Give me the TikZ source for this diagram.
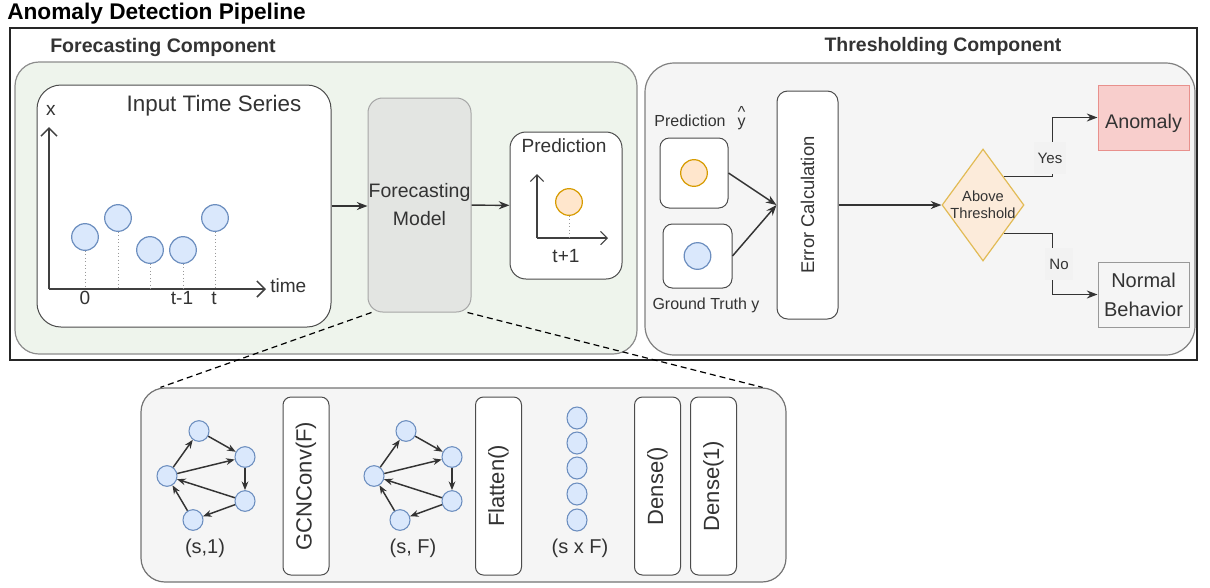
\documentclass[tikz,border=0pt]{standalone}
\usepackage{fontspec}
\setmainfont{Liberation Sans}
\usetikzlibrary{arrows.meta,positioning,shapes.geometric}

\definecolor{txt}{HTML}{333333}
\definecolor{bluefl}{HTML}{DAE8FC}
\definecolor{bluedr}{HTML}{6C8EBF}
\definecolor{orfl}{HTML}{FFE6CC}
\definecolor{ordr}{HTML}{D79B00}
\definecolor{greenfl}{HTML}{EEF4EC}
\definecolor{greyfl}{HTML}{F5F5F5}
\definecolor{modelfl}{HTML}{E3E5E2}
\definecolor{redfl}{HTML}{F8CECC}
\definecolor{reddr}{HTML}{E8908C}
\definecolor{diafl}{HTML}{FCEBDA}
\definecolor{diadr}{HTML}{E2BB55}

\newcommand{\fnt}[2]{\fontsize{#1}{#2}\selectfont}

\tikzset{
  panel/.style={draw=black!45, line width=0.9pt, rounded corners=18pt, inner sep=0pt},
  card/.style={draw=black!70, fill=white, line width=0.75pt, inner sep=0pt},
  layerbox/.style={card, rounded corners=6pt, minimum width=34.5pt, minimum height=133.5pt},
  bdot/.style={circle, draw=bluedr, fill=bluefl, line width=0.9pt, inner sep=0pt, minimum size=20pt},
  odot/.style={bdot, draw=ordr, fill=orfl},
  gdot/.style={ellipse, draw=bluedr, fill=bluefl, line width=0.8pt, inner sep=0pt, minimum width=15pt, minimum height=15.5pt},
  lbl/.style={text=txt, inner sep=0pt},
  axis/.style={draw=black!75, line width=1.1pt, -{Straight Barb[length=6pt,width=12pt]}},
  flow/.style={draw=black!80, line width=1.1pt, -{Stealth[length=8pt,width=6pt]}},
  edge/.style={draw=black!80, line width=1.1pt, -{Stealth[length=6.5pt,width=5pt]}},
  drop/.style={draw=black!40, dotted, line width=0.6pt},
  zoomline/.style={draw=black, line width=0.9pt, dash pattern=on 4.5pt off 3pt},
}

\begin{document}
\begin{tikzpicture}[x=0.75pt,y=-0.75pt]
\useasboundingbox (0,0) rectangle (1210,587);

% title and frame
\node[anchor=west, inner sep=0pt, font=\bfseries\fnt{17pt}{20pt}] (title) at (7,14) {Anomaly Detection Pipeline};
\draw[line width=1.8pt, black!85] (10,28) rectangle (1197,360);

% forecasting component
\node[lbl, anchor=west, font=\bfseries\fnt{14.7pt}{17pt}] (fchead) at (50,47) {Forecasting Component};
\node[panel, fill=greenfl, minimum width=466.5pt, minimum height=219pt] (fcpanel) at (326,208) {};

\node[card, rounded corners=18pt, minimum width=220.5pt, minimum height=181.5pt] (inbox) at (184,206) {};
\node[lbl, font=\fnt{16.8pt}{20pt}] (intitle) at (214,106) {Input Time Series};
\coordinate (o) at (49,289);
\coordinate (ytop) at (49,127);
\coordinate (xend) at (266,289);
\draw[axis] (o) -- (ytop);
\draw[axis] (o) -- (xend);
\node[lbl, font=\fnt{14.3pt}{16pt}] (xlbl) at (51,110) {x};
\node[lbl, anchor=west, font=\fnt{14.3pt}{16pt}] (timelbl) at (270,286) {time};
\foreach \i/\px/\py in {1/85/237,2/118/218,3/150/250,4/183/250,5/215/218}{
  \node[bdot] (ts\i) at (\px,\py) {};
  \draw[drop] (ts\i.south) -- (ts\i.south |- o);
}
\node[lbl, font=\fnt{14.3pt}{16pt}] (t0) at (85,298) {0};
\node[lbl, font=\fnt{14.3pt}{16pt}] (tm1) at (182,298) {t-1};
\node[lbl, font=\fnt{14.3pt}{16pt}] (tt) at (214,298) {t};

\node[lbl, draw=black!35, fill=modelfl, line width=0.75pt, rounded corners=11pt, minimum width=77.25pt, minimum height=160.5pt, align=center, font=\fnt{14.6pt}{21pt}] (model) at (419.5,205) {Forecasting\\Model};

\node[card, rounded corners=12pt, minimum width=84pt, minimum height=110.25pt] (predbox) at (566,205.5) {};
\node[lbl, font=\fnt{14.3pt}{16pt}] (predtitle) at (564,146) {Prediction};
\coordinate (po) at (537,238);
\coordinate (pytop) at (537,174);
\coordinate (pxend) at (608,238);
\draw[axis, line width=0.8pt, -{Straight Barb[length=5pt,width=10pt]}] (po) -- (pytop);
\draw[axis, line width=0.8pt, -{Straight Barb[length=5pt,width=10pt]}] (po) -- (pxend);
\node[odot] (pdot) at (569,202) {};
\draw[drop] (pdot.south) -- (pdot.south |- po);
\node[lbl, font=\fnt{14.3pt}{16pt}] (tnext) at (566,256) {t+1};

\draw[flow] (inbox.east) -- (inbox.east -| model.west);
\draw[flow] (model) -- (predbox);

% thresholding component
\node[lbl, font=\bfseries\fnt{14.6pt}{17pt}] (thhead) at (943,47) {Thresholding Component};
\node[panel, draw=black!50, fill=greyfl, rounded corners=22pt, minimum width=412.5pt, minimum height=219pt] (thpanel) at (920,209) {};

\node[lbl, font=\fnt{12pt}{14pt}] (predlbl) at (700,121) {Prediction\hspace{9pt}\ooalign{y\cr\hidewidth\raisebox{7pt}{\^{}}\hidewidth\cr}};
\node[card, rounded corners=7pt, minimum width=51pt, minimum height=52.5pt] (pbox) at (694,173) {};
\node[odot] (pcirc) at (pbox) {};
\node[card, rounded corners=7pt, minimum width=51.75pt, minimum height=48pt] (gbox) at (697.5,256) {};
\node[bdot] (gcirc) at (gbox) {};
\node[lbl, font=\fnt{12pt}{14pt}] (gtlbl) at (706,305) {Ground Truth y};

\node[card, rounded corners=8pt, minimum width=45.75pt, minimum height=171pt] (errbox) at (807.5,205) {};
\node[lbl, rotate=90, font=\fnt{13.8pt}{16pt}] (errtxt) at (errbox) {Error Calculation};

\node[diamond, draw=diadr, fill=diafl, line width=0.9pt, inner sep=0pt, minimum width=61.5pt, minimum height=84pt] (thr) at (983,205) {};
\node[lbl, align=center, font=\fnt{11pt}{12.5pt}] (thrtxt) at (thr) {Above\\Threshold};

\node[draw=reddr, fill=redfl, line width=0.75pt, minimum width=68.25pt, minimum height=48.75pt] (anom) at (1143.5,117.5) {};
\node[lbl, font=\fnt{14.8pt}{17pt}] (anomtxt) at (1143.5,123) {Anomaly};
\node[lbl, draw=black!40, fill=greyfl, line width=0.75pt, minimum width=68.25pt, minimum height=48.75pt, align=center, font=\fnt{15pt}{21.75pt}] (normal) at (1143.5,294.5) {Normal\\Behavior};

\draw[flow] (pbox.east) -- (errbox.west);
\draw[flow] (gbox.east) -- (errbox.west);
\draw[flow] (errbox.east) -- (thr.west);
\draw[flow] (thr.north east) -| ([xshift=-33.75pt]anom.west) -- (anom.west);
\draw[flow] (thr.south east) -| ([xshift=-33.75pt]normal.west) -- (normal.west);
\node[lbl, fill=black!5, inner xsep=3pt, inner ysep=8pt, font=\fnt{11.3pt}{13pt}] (yes) at (1050,158) {Yes};
\node[lbl, fill=black!5, inner xsep=3pt, inner ysep=8pt, font=\fnt{11.3pt}{13pt}] (no) at (1059,264) {No};

% model details
\node[panel, draw=black!55, fill=greyfl, minimum width=483.75pt, minimum height=145.5pt] (bpanel) at (463.5,485) {};

\foreach \g/\dx in {a/0,b/207}{
  \foreach \i/\px/\py in {1/199/431,2/245/457,3/167/476,4/245/501,5/193/520}
    \node[gdot] (\g\i) at ({\px+\dx},\py) {};
  \foreach \s/\t in {1/2,3/1,3/2,2/4,4/3,4/5,5/3}
    \draw[edge] (\g\s) -- (\g\t);
}
\foreach \i/\py in {1/418,2/443,3/468,4/494,5/520}
  \node[gdot, minimum height=16.5pt] (col\i) at (577,\py) {};

\node[lbl, font=\fnt{15pt}{17pt}] (shin) at (205,548) {(s,1)};
\node[lbl, font=\fnt{15pt}{17pt}] (shgcn) at (413,548) {(s, F)};
\node[lbl, font=\fnt{15pt}{17pt}] (shflat) at (580,548) {(s x F)};

\node[layerbox] (gcn) at (306,486) {};
\node[lbl, rotate=90, font=\fnt{16.5pt}{19pt}] at (gcn) {GCNConv(F)};
\node[layerbox] (flat) at (498.5,486) {};
\node[lbl, rotate=90, font=\fnt{16.5pt}{19pt}] at (flat) {Flatten()};
\node[layerbox] (dense) at (657.5,486) {};
\node[lbl, rotate=90, font=\fnt{16.5pt}{19pt}] at (dense) {Dense()};
\node[layerbox] (denseone) at (713.5,486) {};
\node[lbl, rotate=90, font=\fnt{16.5pt}{19pt}] at (denseone) {Dense(1)};

\draw[zoomline] ([xshift=3pt]model.south west) -- ([xshift=15pt]bpanel.north west);
\draw[zoomline] ([xshift=-3pt]model.south east) -- ([xshift=-18pt]bpanel.north east);
\end{tikzpicture}
\end{document}
